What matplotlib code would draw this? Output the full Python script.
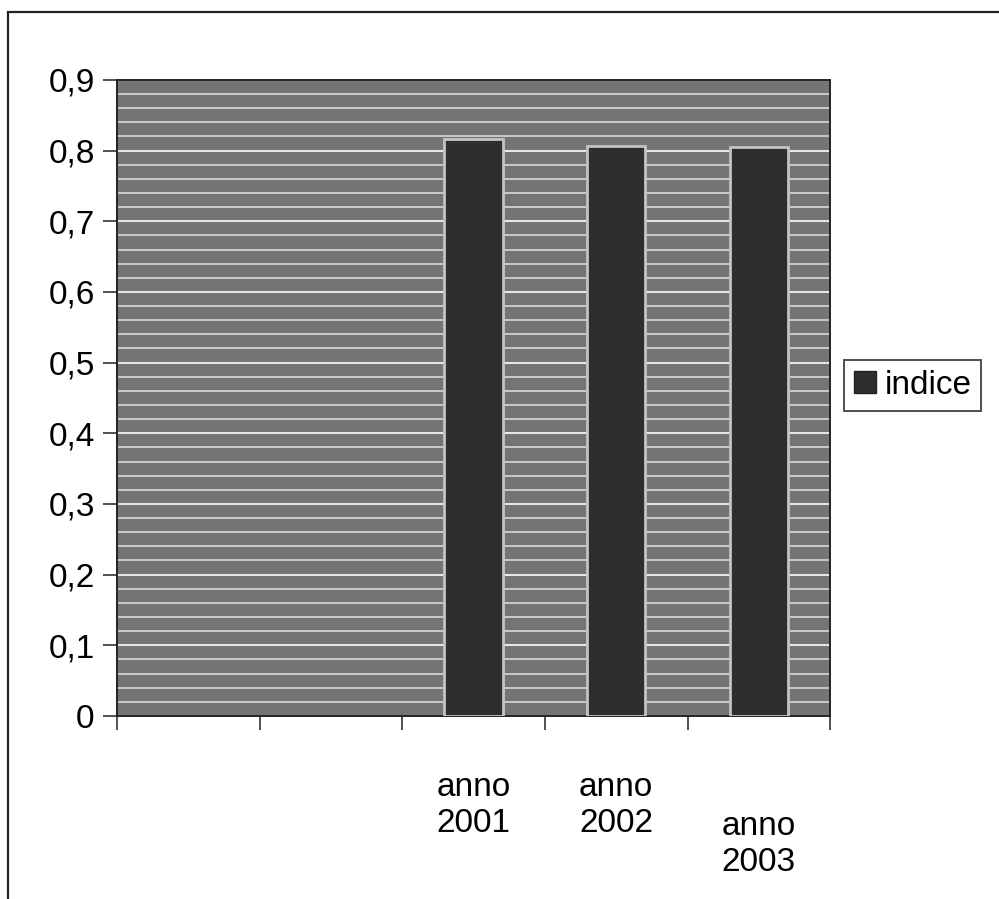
import numpy as np
import matplotlib.pyplot as plt
from matplotlib.ticker import MultipleLocator, FixedLocator, NullFormatter
from matplotlib.patches import Rectangle
import matplotlib.transforms as mtransforms

plt.rcParams['font.family'] = ['Liberation Sans', 'DejaVu Sans']

categorie = ['', '', 'anno\n2001', 'anno\n2002', 'anno\n2003']
indice = [np.nan, np.nan, 0.816, 0.806, 0.805]
yticks = [0, 0.1, 0.2, 0.3, 0.4, 0.5, 0.6, 0.7, 0.8, 0.9]
ylabels = ['0', '0,1', '0,2', '0,3', '0,4', '0,5', '0,6', '0,7', '0,8', '0,9']

fig = plt.figure(figsize=(9.99, 8.99), dpi=100)
fig.patch.set_facecolor('white')

# chart border (scanned excel chart area)
fig.patches.append(Rectangle((0.008, -0.05), 1.1, 1.037, transform=fig.transFigure,
                             fill=False, edgecolor='#222222', linewidth=1.6))

ax = fig.add_axes([0.117, 0.2036, 0.714, 0.7075])
ax.set_facecolor('#747474')

x = np.arange(len(categorie))
bars = ax.bar(x, indice, width=0.41, color='#2e2e2e', edgecolor='#c4c4c4',
              linewidth=2.0, zorder=3, label='indice')

ax.set_xlim(-0.5, len(categorie) - 0.5)
ax.set_ylim(0, 0.9)

ax.set_yticks(yticks)
ax.set_yticklabels(ylabels)
ax.yaxis.set_minor_locator(MultipleLocator(0.02))
ax.grid(axis='y', which='minor', color='#d0d0d0', linewidth=1.3, zorder=1)
ax.grid(axis='y', which='major', color='#e6e6e6', linewidth=1.5, zorder=1)

# category boundary ticks, labels drawn separately (staggered like excel)
ax.xaxis.set_major_locator(FixedLocator(np.arange(-0.5, len(categorie), 1.0)))
ax.xaxis.set_major_formatter(NullFormatter())
ax.tick_params(axis='x', which='major', length=10, width=1.2, color='#333333', direction='out')
ax.tick_params(axis='y', which='major', length=10, width=1.2, color='#333333',
               direction='out', labelsize=24, pad=6)
ax.tick_params(axis='y', which='minor', length=0)

trans = mtransforms.blended_transform_factory(ax.transData, ax.transAxes)
for i, lab in enumerate(categorie):
    if not lab:
        continue
    ypos = -0.088 if i < 4 else -0.15
    ax.text(i, ypos, lab, transform=trans, ha='center', va='top',
            fontsize=24, linespacing=1.2, multialignment='center')

for s in ax.spines.values():
    s.set_color('#222222')
    s.set_linewidth(1.4)

leg = ax.legend(loc='center left', bbox_to_anchor=(1.02, 0.52), fontsize=24,
                frameon=True, fancybox=False, edgecolor='#222222',
                handlelength=0.65, handleheight=0.65, handletextpad=0.25,
                borderpad=0.3, borderaxespad=0)
leg.get_frame().set_linewidth(1.4)
for h in leg.legend_handles:
    h.set_edgecolor('#222222')
    h.set_linewidth(1.0)

fig.savefig('out.png', dpi=100)
